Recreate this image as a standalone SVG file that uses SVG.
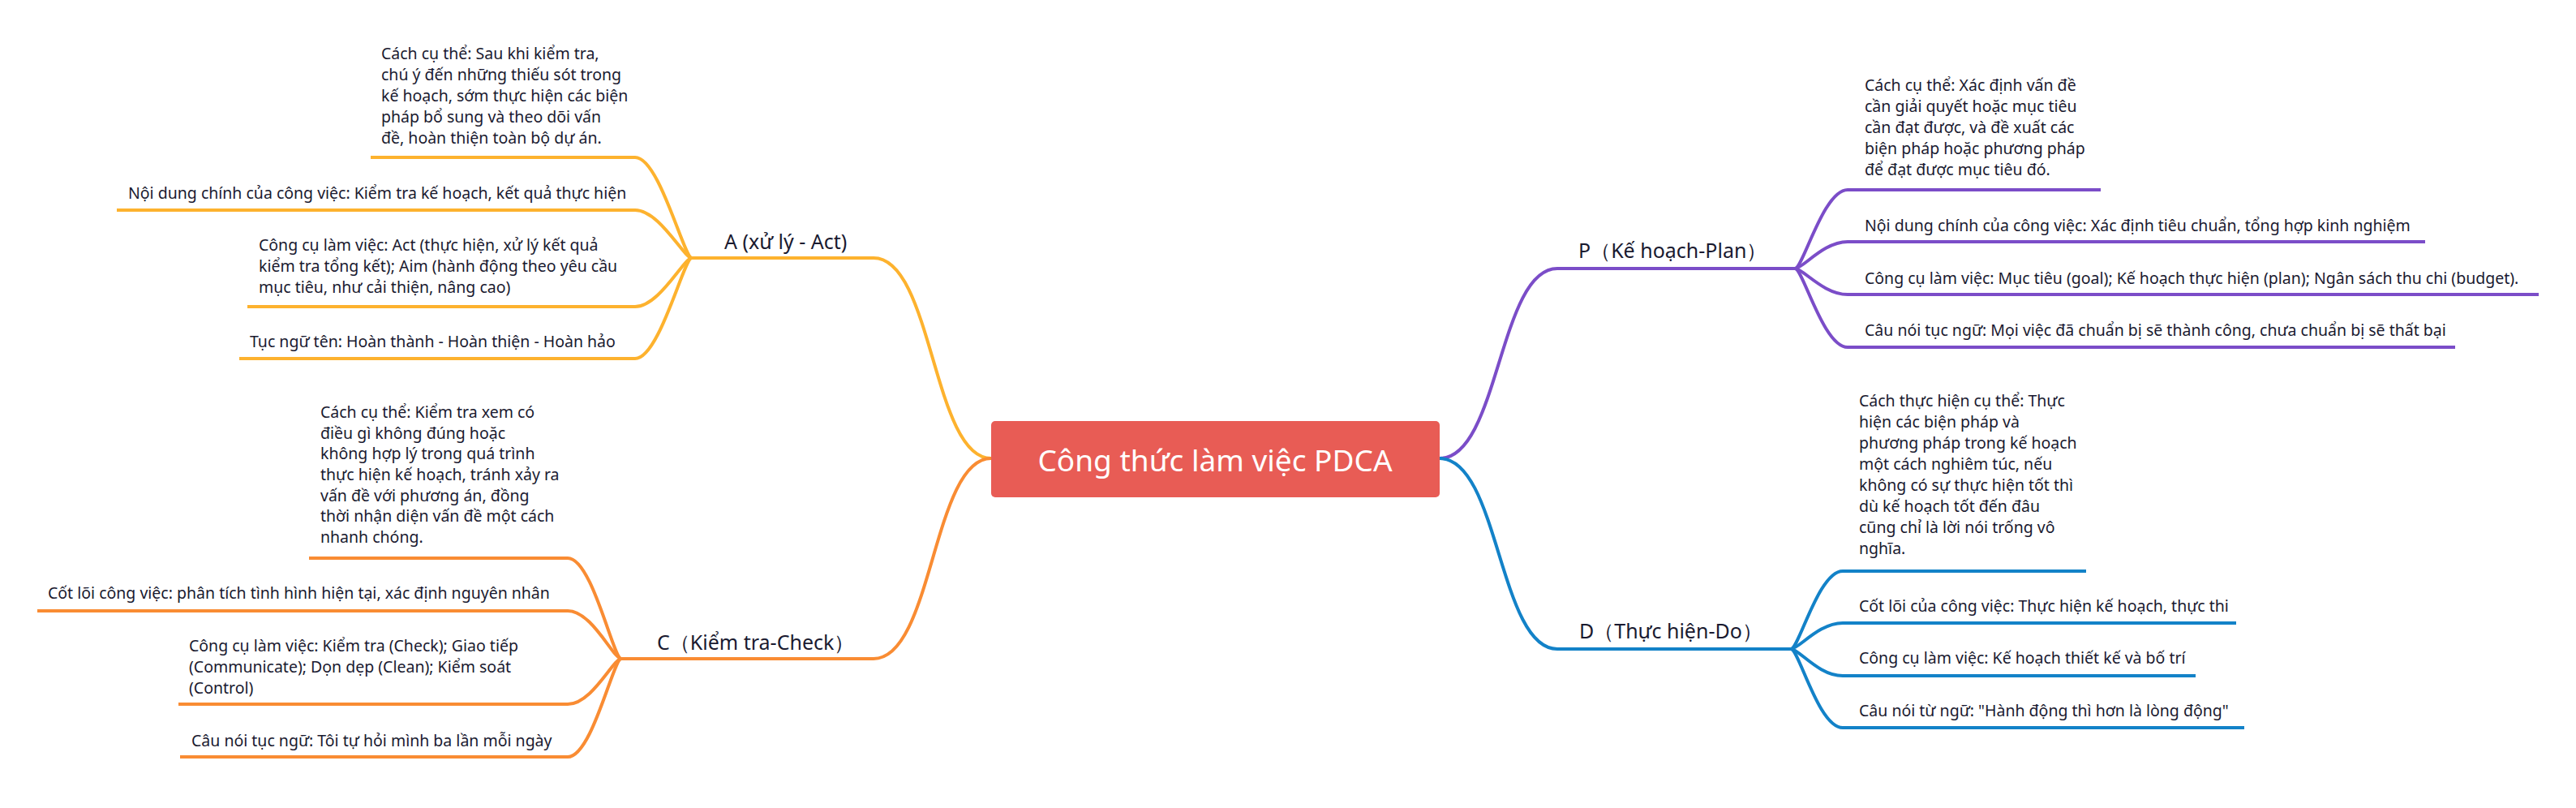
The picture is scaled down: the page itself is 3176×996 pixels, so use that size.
<svg xmlns="http://www.w3.org/2000/svg" width="3176" height="996" viewBox="0 0 3176 996">
<style>
text{font-family:"Noto Sans","Open Sans",sans-serif;fill:#1a1a30;}
.t{font-size:19.5px;}
.b{font-size:25px;}
.m{font-size:37px;fill:#ffffff;}
.c{fill:none;stroke-width:4;}
.ya{stroke:#FDB22E;}
.oc{stroke:#F98C33;}
.pp{stroke:#7B4DC8;}
.bd{stroke:#1382C8;}
</style>
<rect width="3176" height="996" fill="#ffffff"/>
<g id="connectors">
<path class="c ya" d="M1222 565 C1150 565 1150 318 1077 318 L853 318"/>
<path class="c oc" d="M1222 565 C1150 565 1150 812 1077 812 L766 812"/>
<path class="c pp" d="M1775 565 C1848 565 1848 331 1920 331 L2213 331"/>
<path class="c bd" d="M1775 565 C1848 565 1848 800 1920 800 L2208 800"/>
<path class="c ya" d="M853 318 C843 318 813 194 783 194 L457 194"/>
<path class="c ya" d="M853 318 C843 318 813 259 783 259 L144 259"/>
<path class="c ya" d="M853 318 C843 318 813 378 783 378 L305 378"/>
<path class="c ya" d="M853 318 C843 318 813 442 783 442 L295 442"/>
<path class="c oc" d="M766 812 C756 812 730 688 700 688 L381 688"/>
<path class="c oc" d="M766 812 C756 812 730 753 700 753 L46 753"/>
<path class="c oc" d="M766 812 C756 812 730 868 700 868 L220 868"/>
<path class="c oc" d="M766 812 C756 812 730 933 700 933 L222 933"/>
<path class="c pp" d="M2213 331 C2223 331 2248 234 2278 234 L2590 234"/>
<path class="c pp" d="M2213 331 C2223 331 2248 298 2278 298 L2990 298"/>
<path class="c pp" d="M2213 331 C2223 331 2248 363 2278 363 L3130 363"/>
<path class="c pp" d="M2213 331 C2223 331 2248 428 2278 428 L3027 428"/>
<path class="c bd" d="M2208 800 C2218 800 2242 704 2272 704 L2572 704"/>
<path class="c bd" d="M2208 800 C2218 800 2242 768 2272 768 L2757 768"/>
<path class="c bd" d="M2208 800 C2218 800 2242 833 2272 833 L2707 833"/>
<path class="c bd" d="M2208 800 C2218 800 2242 897 2272 897 L2767 897"/>
</g>
<g id="root">
<rect x="1222" y="519" width="553" height="94" rx="5" fill="#E85C55"/>
<text class="m" x="1498" y="581" text-anchor="middle">Công thức làm việc PDCA</text>
</g>
<g id="branch-a"><text class="b" x="893" y="307">A (xử lý - Act)</text></g>
<g id="branch-c"><text class="b" x="810" y="801">C（Kiểm tra-Check）</text></g>
<g id="branch-p"><text class="b" x="1946" y="318">P（Kế hoạch-Plan）</text></g>
<g id="branch-d"><text class="b" x="1947" y="787">D（Thực hiện-Do）</text></g>
<g id="a1"><text class="t" x="470" y="73">Cách cụ thể: Sau khi kiểm tra,</text><text class="t" x="470" y="99">chú ý đến những thiếu sót trong</text><text class="t" x="470" y="125">kế hoạch, sớm thực hiện các biện</text><text class="t" x="470" y="151">pháp bổ sung và theo dõi vấn</text><text class="t" x="470" y="177">đề, hoàn thiện toàn bộ dự án.</text></g>
<g id="a2"><text class="t" x="158" y="245">Nội dung chính của công việc: Kiểm tra kế hoạch, kết quả thực hiện</text></g>
<g id="a3"><text class="t" x="319" y="309">Công cụ làm việc: Act (thực hiện, xử lý kết quả</text><text class="t" x="319" y="335">kiểm tra tổng kết); Aim (hành động theo yêu cầu</text><text class="t" x="319" y="361">mục tiêu, như cải thiện, nâng cao)</text></g>
<g id="a4"><text class="t" x="308" y="428">Tục ngữ tên: Hoàn thành - Hoàn thiện - Hoàn hảo</text></g>
<g id="c1"><text class="t" x="395" y="515">Cách cụ thể: Kiểm tra xem có</text><text class="t" x="395" y="541">điều gì không đúng hoặc</text><text class="t" x="395" y="566">không hợp lý trong quá trình</text><text class="t" x="395" y="592">thực hiện kế hoạch, tránh xảy ra</text><text class="t" x="395" y="618">vấn đề với phương án, đồng</text><text class="t" x="395" y="643">thời nhận diện vấn đề một cách</text><text class="t" x="395" y="669">nhanh chóng.</text></g>
<g id="c2"><text class="t" x="59" y="738">Cốt lõi công việc: phân tích tình hình hiện tại, xác định nguyên nhân</text></g>
<g id="c3"><text class="t" x="233" y="803">Công cụ làm việc: Kiểm tra (Check); Giao tiếp</text><text class="t" x="233" y="829">(Communicate); Dọn dẹp (Clean); Kiểm soát</text><text class="t" x="233" y="855">(Control)</text></g>
<g id="c4"><text class="t" x="236" y="920">Câu nói tục ngữ: Tôi tự hỏi mình ba lần mỗi ngày</text></g>
<g id="p1"><text class="t" x="2299" y="112">Cách cụ thể: Xác định vấn đề</text><text class="t" x="2299" y="138">cần giải quyết hoặc mục tiêu</text><text class="t" x="2299" y="164">cần đạt được, và đề xuất các</text><text class="t" x="2299" y="190">biện pháp hoặc phương pháp</text><text class="t" x="2299" y="216">để đạt được mục tiêu đó.</text></g>
<g id="p2"><text class="t" x="2299" y="285">Nội dung chính của công việc: Xác định tiêu chuẩn, tổng hợp kinh nghiệm</text></g>
<g id="p3"><text class="t" x="2299" y="350">Công cụ làm việc: Mục tiêu (goal); Kế hoạch thực hiện (plan); Ngân sách thu chi (budget).</text></g>
<g id="p4"><text class="t" x="2299" y="414">Câu nói tục ngữ: Mọi việc đã chuẩn bị sẽ thành công, chưa chuẩn bị sẽ thất bại</text></g>
<g id="d1"><text class="t" x="2292" y="501">Cách thực hiện cụ thể: Thực</text><text class="t" x="2292" y="527">hiện các biện pháp và</text><text class="t" x="2292" y="553">phương pháp trong kế hoạch</text><text class="t" x="2292" y="579">một cách nghiêm túc, nếu</text><text class="t" x="2292" y="605">không có sự thực hiện tốt thì</text><text class="t" x="2292" y="631">dù kế hoạch tốt đến đâu</text><text class="t" x="2292" y="657">cũng chỉ là lời nói trống vô</text><text class="t" x="2292" y="683">nghĩa.</text></g>
<g id="d2"><text class="t" x="2292" y="754">Cốt lõi của công việc: Thực hiện kế hoạch, thực thi</text></g>
<g id="d3"><text class="t" x="2292" y="818">Công cụ làm việc: Kế hoạch thiết kế và bố trí</text></g>
<g id="d4"><text class="t" x="2292" y="883">Câu nói từ ngữ: "Hành động thì hơn là lòng động"</text></g>
</svg>
